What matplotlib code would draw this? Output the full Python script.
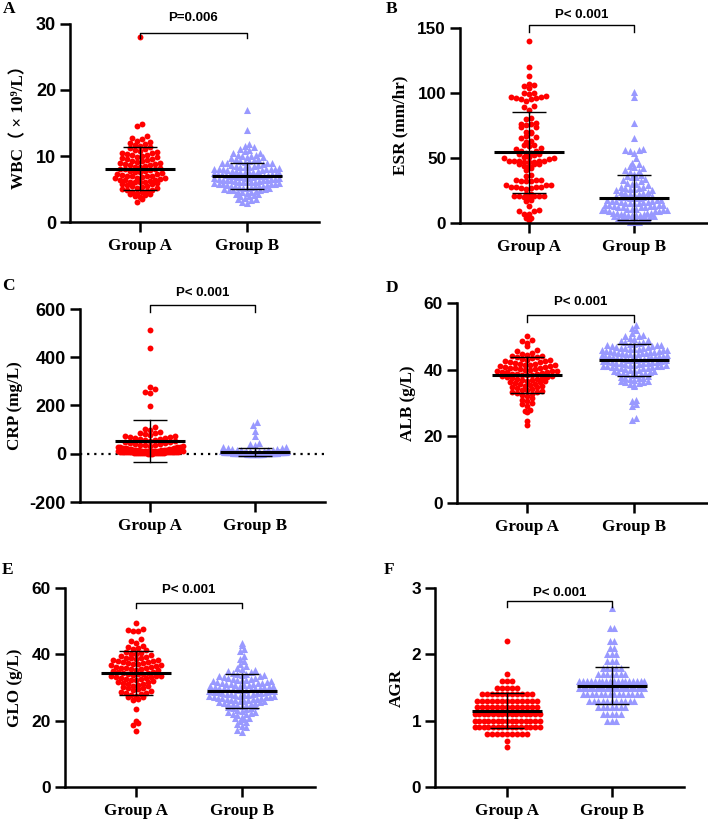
import numpy as np
import matplotlib
matplotlib.use('Agg')
import matplotlib.pyplot as plt

plt.rcParams['axes.unicode_minus'] = False

# ---------------- data ----------------
groups = ['Group A', 'Group B']
letters = ['A', 'B', 'C', 'D', 'E', 'F']
ylabels = ['WBC\uff08 \u00d7 10\u2079/L\uff09', 'ESR (mm/hr)', 'CRP (mg/L)',
           'ALB (g/L)', 'GLO (g/L)', 'AGR']
p_texts = ['P=0.006', 'P< 0.001', 'P< 0.001', 'P< 0.001', 'P< 0.001', 'P< 0.001']

wbc_ticks = [0, 10, 20, 30]
esr_ticks = [0, 50, 100, 150]
crp_ticks = [-200, 0, 200, 400, 600]
alb_ticks = [0, 20, 40, 60]
glo_ticks = [0, 20, 40, 60]
agr_ticks = [0, 1, 2, 3]

wbc_mean = [8.1, 7.0]
wbc_sd = [3.2, 2.0]
esr_mean = [54.3, 19.5]
esr_sd = [31.3, 17.3]
crp_mean = [52, 7]
crp_sd = [86, 17]
alb_mean = [38.3, 42.9]
alb_sd = [5.4, 4.7]
glo_mean = [34.3, 28.9]
glo_sd = [6.6, 5.1]
agr_mean = [1.15, 1.53]
agr_sd = [0.265, 0.285]

wbc_a = [28.0, 14.8, 14.6, 13.0, 12.8, 12.5, 12.3, 12.1, 12.0, 11.8, 11.6, 11.5,
         11.3, 11.2, 11.0, 10.9, 10.7, 10.6, 10.5, 10.4, 10.3, 10.2, 10.1, 10.0,
         9.9, 9.8, 9.7, 9.6, 9.5, 9.4, 9.3, 9.2, 9.1, 9.0, 8.9, 8.8, 8.8, 8.7,
         8.6, 8.5, 8.4, 8.3, 8.2, 8.1, 8.0, 8.0, 7.9, 7.8, 7.7, 7.6, 7.5, 7.4,
         7.3, 7.2, 7.1, 7.0, 7.0, 6.9, 6.9, 6.8, 6.7, 6.6, 6.6, 6.5, 6.4, 6.3,
         6.3, 6.2, 6.1, 6.0, 6.0, 6.0, 5.9, 5.8, 5.7, 5.6, 5.5, 5.4, 5.3, 5.2,
         5.1, 5.0, 4.9, 4.8, 4.7, 4.6, 4.5, 4.4, 4.3, 4.2, 4.1, 4.0, 3.8, 3.5, 3.0]
wbc_b = [17.0, 14.0, 11.8, 11.5, 11.3, 11.0, 10.9, 10.7, 10.5, 10.4, 10.2, 10.1,
         10.0, 10.0, 9.9, 9.8, 9.7, 9.6, 9.5, 9.4, 9.3, 9.2, 9.1, 9.0, 9.0, 9.0,
         8.9, 8.8, 8.7, 8.6, 8.5, 8.4, 8.3, 8.2, 8.1, 8.1, 8.0, 8.0, 8.0, 8.0,
         8.5, 8.3, 7.9, 7.8, 7.8, 7.7, 7.6, 7.5, 7.5, 7.4, 7.3, 7.2, 7.2, 7.1,
         7.0, 7.0, 7.0, 7.6, 7.4, 7.3, 7.1, 7.9, 6.9, 6.9, 6.8, 6.8, 6.7, 6.7,
         6.6, 6.5, 6.5, 6.4, 6.4, 6.3, 6.3, 6.2, 6.2, 6.1, 6.1, 6.0, 6.0, 6.0,
         6.5, 6.6, 6.8, 6.4, 5.9, 5.9, 5.8, 5.8, 5.7, 5.6, 5.6, 5.5, 5.5, 5.4,
         5.3, 5.3, 5.2, 5.1, 5.0, 5.0, 5.5, 5.7, 5.2, 5.4, 4.9, 4.8, 4.7, 4.6,
         4.5, 4.4, 4.3, 4.2, 4.1, 4.0, 4.5, 4.8, 3.9, 3.7, 3.5, 3.3, 3.1, 2.9, 3.5]

esr_a = [140, 120, 113, 107, 106, 105, 104, 100, 100, 99, 98, 97, 97, 96, 96, 95,
         95, 94, 90, 89, 87, 81, 80, 77, 76, 76, 75, 74, 74, 70, 70, 69, 67, 66,
         65, 63, 62, 60, 60, 59, 58, 57, 55, 55, 54, 54, 53, 53, 52, 51, 51, 50,
         50, 49, 48, 48, 48, 48, 48, 47, 47, 47, 45, 45, 45, 44, 44, 42, 41, 37,
         36, 33, 33, 33, 32, 32, 32, 29, 29, 29, 28, 28, 28, 28, 27, 27, 26, 22,
         22, 21, 21, 21, 21, 21, 20, 20, 18, 17, 13, 10, 9, 9, 7, 7, 4, 4, 2]
esr_b = [101, 97, 77, 65, 57, 56, 56, 55, 54, 50, 46, 45, 44, 43, 42, 41, 40, 39,
         38, 37, 36, 35, 35, 34, 33, 32, 31, 30, 30, 29, 28, 28, 27, 27, 26, 26,
         25, 25, 24, 24, 23, 23, 22, 22, 22, 21, 21, 21, 20, 20, 20, 19, 19, 19,
         18, 18, 18, 17, 17, 17, 16, 16, 16, 15, 15, 15, 15, 14, 14, 14, 14, 13,
         13, 13, 12, 12, 12, 12, 11, 11, 11, 10, 10, 10, 10, 9, 9, 9, 8, 8, 8, 8,
         7, 7, 7, 6, 6, 6, 6, 5, 5, 5, 4, 4, 4, 4, 3, 3, 3, 2, 2, 2, 2, 1, 1, 1]

crp_a = [512, 437, 276, 268, 258, 253, 198, 110, 103, 97, 92, 88, 85, 82, 78, 75,
         72, 70, 68, 66, 64, 62, 60, 58, 56, 54, 52, 50, 48, 46, 44, 42, 40, 38,
         36, 35, 33, 31, 30, 28, 27, 26, 25, 24, 22, 21, 20, 19, 18, 17, 16, 15,
         15, 14, 14, 13, 13, 12, 12, 11, 11, 10, 10, 10, 9, 9, 9, 8, 8, 8, 7, 7,
         7, 6, 6, 6, 5, 5, 5, 4, 4, 4, 3, 3, 3, 2, 2, 2, 1, 1, 1, 12, 8, 6, 5]
crp_b = [132, 121, 96, 72, 45, 40, 36, 30, 26, 24, 22, 20, 18, 17, 16, 15, 14, 13,
         12, 12, 11, 11, 10, 10, 10, 10, 9, 9, 9, 9, 9, 8, 8, 8, 8, 8, 8, 7, 7, 7,
         7, 7, 7, 7, 6, 6, 6, 6, 6, 6, 6, 6, 5, 5, 5, 5, 5, 5, 5, 5, 5, 4, 4, 4,
         4, 4, 4, 4, 4, 4, 4, 3, 3, 3, 3, 3, 3, 3, 3, 3, 3, 3, 2, 2, 2, 2, 2, 2,
         2, 2, 2, 2, 2, 2, 1, 1, 1, 1, 1, 1, 1, 1, 1, 1, 1, 1, 0.5, 0.5, 0.5, 0.5,
         0.5, 0.5, 0.5, 0.5, 0.5, 0.5, 0.5, 0.5]

alb_a = [50.2, 49.0, 48.6, 48.0, 47.2, 46.0, 45.6, 45.0, 44.8, 44.5, 44.2, 44.0,
         43.8, 43.5, 43.2, 43.0, 42.8, 42.5, 42.3, 42.0, 41.8, 41.5, 41.3, 41.0,
         40.8, 40.6, 40.5, 40.3, 40.0, 39.8, 39.6, 39.5, 39.3, 39.0, 38.8, 38.6,
         38.5, 38.3, 38.0, 37.8, 37.6, 37.5, 37.2, 37.0, 36.8, 36.5, 36.3, 36.0,
         35.8, 35.5, 35.2, 35.0, 34.8, 34.5, 34.3, 34.0, 33.8, 33.5, 33.2, 33.0,
         32.8, 32.5, 32.0, 31.6, 31.0, 30.5, 30.0, 29.6, 29.0, 28.0, 27.6, 27.2,
         24.5, 23.5, 39.2, 40.2, 41.2, 38.2, 37.3, 42.2, 36.2, 39.7, 40.7, 41.7,
         38.7, 35.7, 43.7, 34.7, 42.7, 37.7, 36.7, 40.4, 39.4, 38.4, 41.4, 33.4]
alb_b = [53.5, 52.5, 51.8, 51.0, 50.5, 50.0, 49.5, 49.0, 48.7, 48.4, 48.0, 47.8,
         47.5, 47.3, 47.0, 46.8, 46.6, 46.4, 46.2, 46.0, 45.8, 45.6, 45.4, 45.2,
         45.0, 45.0, 44.8, 44.6, 44.4, 44.2, 44.0, 44.0, 43.8, 43.6, 43.4, 43.2,
         43.0, 43.0, 42.8, 42.6, 42.4, 42.2, 42.0, 42.0, 41.8, 41.6, 41.4, 41.2,
         41.0, 41.0, 40.8, 40.6, 40.4, 40.2, 40.0, 39.8, 39.5, 39.2, 39.0, 38.7,
         38.4, 38.0, 37.6, 37.2, 36.8, 36.4, 36.0, 35.5, 35.0, 31.0, 30.5, 29.8,
         29.2, 25.5, 25.0, 45.1, 45.3, 45.5, 45.7, 44.1, 44.3, 44.5, 44.7, 43.1,
         43.3, 43.5, 43.7, 42.1, 42.3, 42.5, 42.7, 46.1, 46.3, 46.5, 41.1, 41.3,
         41.5, 47.1, 47.4, 40.5, 40.7, 39.7, 39.3, 38.5, 38.8, 37.9, 37.4, 36.6,
         36.2, 48.2, 49.2, 50.2, 45.9, 44.9, 43.9, 42.9, 41.9, 40.9, 39.9, 38.9,
         37.5, 36.5, 35.8, 46.7, 47.6]

glo_a = [49.5, 47.6, 47.4, 47.1, 46.9, 44.6, 44.0, 43.5, 42.5, 42.2, 41.8, 41.6,
         41.2, 40.8, 40.5, 40.2, 39.8, 39.4, 39.0, 38.8, 38.6, 38.4, 38.0, 37.8,
         37.6, 37.4, 37.2, 37.0, 36.8, 36.5, 36.3, 36.0, 35.8, 35.6, 35.4, 35.2,
         35.0, 34.8, 34.6, 34.4, 34.2, 34.0, 33.8, 33.6, 33.4, 33.2, 33.0, 32.8,
         32.6, 32.4, 32.2, 32.0, 31.8, 31.5, 31.2, 31.0, 30.8, 30.5, 30.2, 30.0,
         29.6, 29.2, 28.8, 28.6, 28.3, 28.0, 27.8, 27.5, 27.2, 27.0, 26.6, 26.2,
         23.6, 20.0, 19.3, 18.7, 17.0, 36.2, 37.3, 38.2, 35.5, 34.5, 33.5, 39.2,
         36.7, 32.7, 31.6, 30.6, 29.9, 28.4, 35.9, 34.1, 38.9, 40.0, 37.9, 33.1]
glo_b = [43.5, 42.8, 41.5, 41.0, 39.5, 38.5, 38.0, 37.2, 36.5, 36.0, 35.6, 35.2,
         34.8, 34.5, 34.2, 33.9, 33.6, 33.3, 33.0, 32.7, 32.4, 32.1, 31.8, 31.5,
         31.2, 31.0, 30.8, 30.6, 30.4, 30.2, 30.0, 29.8, 29.6, 29.4, 29.2, 29.0,
         28.8, 28.6, 28.4, 28.2, 28.0, 27.8, 27.6, 27.4, 27.2, 27.0, 26.8, 26.6,
         26.4, 26.2, 26.0, 25.8, 25.5, 25.2, 25.0, 24.7, 24.4, 24.1, 23.8, 23.5,
         23.2, 22.9, 22.6, 22.3, 22.0, 21.6, 21.2, 20.8, 20.4, 20.0, 19.5, 19.0,
         18.5, 18.0, 17.3, 16.5, 33.4, 32.9, 32.2, 31.7, 31.1, 30.7, 30.1, 29.7,
         29.1, 28.7, 28.1, 27.7, 27.1, 26.7, 26.1, 25.7, 25.1, 24.6, 32.5, 31.4,
         30.5, 29.5, 28.5, 27.5, 26.5, 25.4, 30.9, 29.9, 28.9, 27.9, 26.9, 31.9,
         24.9, 34.0, 35.0, 23.9, 29.3, 28.3, 27.3, 30.3, 26.3, 31.3, 32.3, 22.7,
         21.9, 33.7, 24.3, 25.9, 20.9]

agr_a = [0.6, 0.7,
         0.8, 0.8, 0.8, 0.8, 0.8, 0.8, 0.8, 0.8, 0.8,
         0.9, 0.9, 0.9, 0.9, 0.9, 0.9, 0.9, 0.9, 0.9, 0.9, 0.9, 0.9, 0.9, 0.9, 0.9,
         1.0, 1.0, 1.0, 1.0, 1.0, 1.0, 1.0, 1.0, 1.0, 1.0, 1.0, 1.0, 1.0, 1.0, 1.0,
         1.1, 1.1, 1.1, 1.1, 1.1, 1.1, 1.1, 1.1, 1.1, 1.1, 1.1, 1.1, 1.1, 1.1, 1.1,
         1.2, 1.2, 1.2, 1.2, 1.2, 1.2, 1.2, 1.2, 1.2, 1.2, 1.2, 1.2, 1.2,
         1.3, 1.3, 1.3, 1.3, 1.3, 1.3, 1.3, 1.3, 1.3, 1.3, 1.3, 1.3, 1.3,
         1.4, 1.4, 1.4, 1.4, 1.4, 1.4, 1.4, 1.4, 1.4, 1.4, 1.4,
         1.5, 1.5, 1.5, 1.5, 1.5,
         1.6, 1.6, 1.6, 1.7, 2.2]
agr_b = [1.0, 1.0, 1.0,
         1.1, 1.1, 1.1, 1.1, 1.1,
         1.2, 1.2, 1.2, 1.2, 1.2, 1.2, 1.2,
         1.3, 1.3, 1.3, 1.3, 1.3, 1.3, 1.3, 1.3, 1.3, 1.3, 1.3,
         1.4, 1.4, 1.4, 1.4, 1.4, 1.4, 1.4, 1.4, 1.4, 1.4, 1.4, 1.4, 1.4, 1.4,
         1.5, 1.5, 1.5, 1.5, 1.5, 1.5, 1.5, 1.5, 1.5, 1.5, 1.5, 1.5, 1.5, 1.5,
         1.5, 1.5, 1.5, 1.5, 1.5, 1.5,
         1.6, 1.6, 1.6, 1.6, 1.6, 1.6, 1.6, 1.6, 1.6, 1.6, 1.6, 1.6, 1.6, 1.6,
         1.6, 1.6, 1.6, 1.6,
         1.7, 1.7, 1.7, 1.7, 1.7, 1.7, 1.7,
         1.8, 1.8, 1.8, 1.8, 1.8,
         1.9, 1.9, 1.9, 2.0, 2.0, 2.0, 2.1, 2.1, 2.2, 2.2, 2.4, 2.4, 2.7]

# ---------------- layout / style ----------------
W, H = 708, 821
RED = '#FF0000'
BLUE = '#9999FF'

fig = plt.figure(figsize=(W / 100, H / 100), dpi=100)

panels = [
    dict(a=wbc_a, b=wbc_b, mean=wbc_mean, sd=wbc_sd, ticks=wbc_ticks,
         box=(70, 24, 319, 222), xlim=(-0.654, 1.673), ylab_x=19,
         let_xy=(3, 9), br=(28.6, 27.9), pt_y=30.9, tfs=13),
    dict(a=esr_a, b=esr_b, mean=esr_mean, sd=esr_sd, ticks=esr_ticks,
         box=(460, 28, 707, 223), xlim=(-0.657, 1.695), ylab_x=400,
         let_xy=(386, 9), br=(152.3, 147), pt_y=160, tfs=12.3),
    dict(a=crp_a, b=crp_b, mean=crp_mean, sd=crp_sd, ticks=crp_ticks,
         box=(80, 309, 325, 502), xlim=(-0.667, 1.667), ylab_x=15,
         let_xy=(2, 286), br=(616, 588), pt_y=666, tfs=13),
    dict(a=alb_a, b=alb_b, mean=alb_mean, sd=alb_sd, ticks=alb_ticks,
         box=(457, 303, 707, 503), xlim=(-0.654, 1.68), ylab_x=408,
         let_xy=(386, 288), br=(56.4, 54.3), pt_y=60.3, tfs=12.5),
    dict(a=glo_a, b=glo_b, mean=glo_mean, sd=glo_sd, ticks=glo_ticks,
         box=(65, 588, 315, 787), xlim=(-0.67, 1.69), ylab_x=15,
         let_xy=(2, 570), br=(55.5, 54.0), pt_y=59.4, tfs=12.5),
    dict(a=agr_a, b=agr_b, mean=agr_mean, sd=agr_sd, ticks=agr_ticks,
         box=(435, 588, 684, 787), xlim=(-0.686, 1.686), ylab_x=397,
         let_xy=(384, 570), br=(2.80, 2.71), pt_y=2.925, tfs=12.3),
]


def row_offsets(vals, ppu_y, ppu_x, row_px, step_px, half_px):
    vals = np.asarray(vals, float)
    bins = np.round(vals * ppu_y / row_px).astype(int)
    offs = np.zeros(len(vals))
    for bb in np.unique(bins):
        idx = np.where(bins == bb)[0]
        idx = idx[np.argsort(vals[idx], kind='stable')]
        n = len(idx)
        if n == 1:
            continue
        s = min(step_px, 2 * half_px / (n - 1))
        pos = (np.arange(n) - (n - 1) / 2.0) * s
        order = np.argsort(np.abs(pos), kind='stable')
        offs[idx] = pos[order] / ppu_x
    return offs


serif = 'Liberation Serif'
sans = 'Liberation Sans'

for i, p in enumerate(panels):
    l, t, r, b = p['box']
    ax = fig.add_axes([l / W, 1 - b / H, (r - l) / W, (b - t) / H])
    ticks = p['ticks']
    ax.set_xlim(*p['xlim'])
    ax.set_ylim(ticks[0], ticks[-1])
    ppu_x = (r - l) / (p['xlim'][1] - p['xlim'][0])
    ppu_y = (b - t) / (ticks[-1] - ticks[0])

    if i == 2:
        ax.axhline(0, color='k', lw=1.6, ls=(0, (1, 2.2)), zorder=1)

    specs = [(p['a'], RED, 'o', 18, 5.0), (p['b'], BLUE, '^', 26, 4.5)]
    for gi, (vals, col, mk, s, step) in enumerate(specs):
        offs = row_offsets(vals, ppu_y, ppu_x, 5.2, step, 32.5)
        ax.scatter(gi + offs, vals, s=s, c=col, marker=mk, linewidths=0,
                   zorder=2, clip_on=False)
        m = p['mean'][gi]
        sd = p['sd'][gi]
        hw = 35 / ppu_x
        cw = 17 / ppu_x
        ax.plot([gi - hw, gi + hw], [m, m], color='k', lw=2.2, zorder=3,
                solid_capstyle='butt')
        ax.plot([gi, gi], [m - sd, m + sd], color='k', lw=1.0, zorder=3)
        for yv in (m - sd, m + sd):
            ax.plot([gi - cw, gi + cw], [yv, yv], color='k', lw=1.0, zorder=3,
                    solid_capstyle='butt')

    # significance bracket
    yb, yt = p['br']
    ax.plot([0, 0, 1, 1], [yt, yb, yb, yt], color='k', lw=1.0, clip_on=False)
    ax.text(0.5, p['pt_y'], p_texts[i], ha='center', va='center',
            fontsize=9.5, fontweight='bold', family=sans)

    for sp in ['top', 'right']:
        ax.spines[sp].set_visible(False)
    for sp in ['left', 'bottom']:
        ax.spines[sp].set_linewidth(1.8)
    ax.tick_params(axis='both', direction='out', length=7, width=1.8)
    ax.tick_params(axis='x', pad=4.5)
    ax.tick_params(axis='y', pad=3)
    ax.set_xticks([0, 1])
    ax.set_xticklabels(groups, family=serif, fontweight='bold', fontsize=12.3)
    ax.set_yticks(ticks)
    ax.set_yticklabels([str(v) for v in ticks], family=sans, fontweight='bold',
                       fontsize=p['tfs'])

    fig.text(p['ylab_x'] / W, 1 - ((t + b) / 2) / H, ylabels[i], rotation=90,
             ha='center', va='center', fontsize=12.3, fontweight='bold',
             family=[serif, 'DejaVu Serif', 'Noto Sans CJK SC'])
    lx, ly = p['let_xy']
    fig.text(lx / W, 1 - ly / H, letters[i], ha='left', va='center',
             fontsize=12.5, fontweight='bold', family=serif)

fig.savefig('out.png', dpi=100)
